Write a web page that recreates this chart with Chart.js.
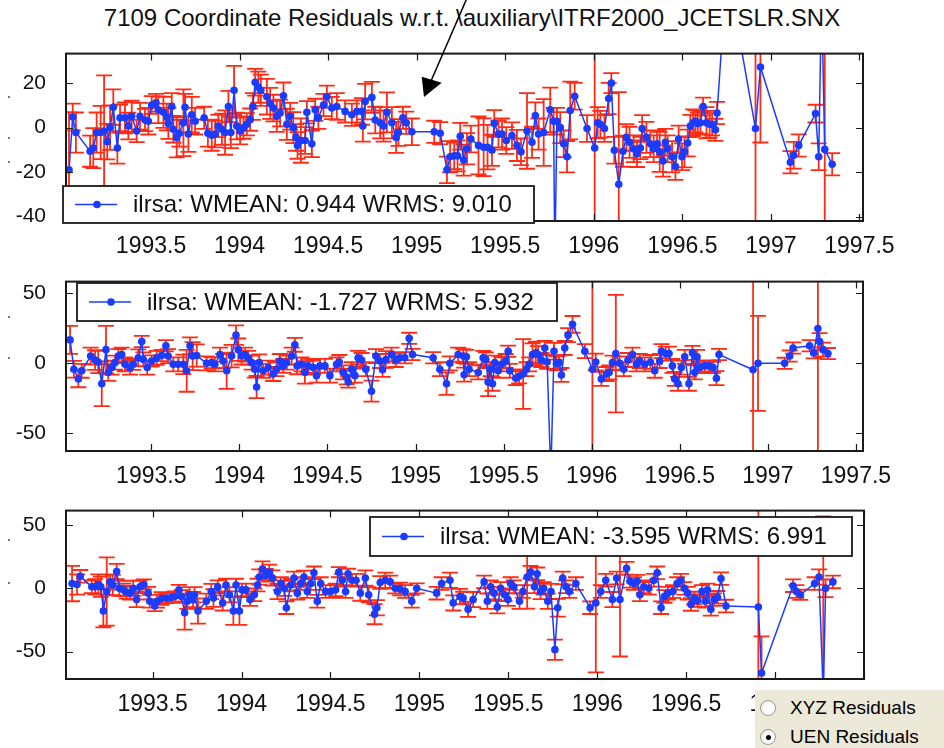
<!DOCTYPE html>
<html>
<head>
<meta charset="utf-8">
<script src="https://cdn.jsdelivr.net/npm/chart.js@4.4.1/dist/chart.umd.min.js"></script>
<style>
  body { margin: 0; width: 944px; height: 748px; background: #fff; position: relative; overflow: hidden;
         font-family: "Liberation Sans", Arial, sans-serif; }
  #title { position: absolute; left: 0; top: 4px; width: 944px; text-align: center; font-size: 24px; color: #111; white-space: nowrap; }
  canvas { position: absolute; left: 0; }
  svg { position: absolute; left: 0; top: 0; }
  .dot { position: absolute; left: 8px; width: 2px; height: 2px; background: #777; }
  #radio { position: absolute; left: 755px; top: 690px; width: 189px; height: 58px; background: #ece9d8; z-index: 5; }
  .opt { position: absolute; left: 5px; height: 20px; display: flex; align-items: center; font-size: 19px; color: #000; }
  .rb { width: 14px; height: 14px; border-radius: 50%; border: 1px solid #9a9a90; background: radial-gradient(circle at 60% 60%, #fff 40%, #dcdad0); margin-right: 14px; position: relative; }
  .rb.on::after { content: ''; position: absolute; left: 4.5px; top: 4.5px; width: 5px; height: 5px; border-radius: 50%; background: #000; }
</style>
</head>
<body>
<div id="title">7109 Coordinate Residuals w.r.t. \auxiliary\ITRF2000_JCETSLR.SNX</div>

<canvas id="c1" width="944" height="232"></canvas>
<canvas id="c2" width="944" height="234"></canvas>
<canvas id="c3" width="944" height="233"></canvas>

<svg width="944" height="110">
  <line x1="467" y1="-2" x2="428" y2="88" stroke="#000" stroke-width="1.5"/>
  <polygon points="424,97 421.7,76.7 441.7,82.7" fill="#000"/>
</svg>

<div class="dot" style="top:96px"></div>
<div class="dot" style="top:137px"></div>
<div class="dot" style="top:161px"></div>
<div class="dot" style="top:316px"></div>
<div class="dot" style="top:357px"></div>
<div class="dot" style="top:539px"></div>
<div class="dot" style="top:582px"></div>

<div id="radio">
  <div class="opt" style="top:8px"><span class="rb"></span><span>XYZ Residuals</span></div>
  <div class="opt" style="top:37px"><span class="rb on"></span><span>UEN Residuals</span></div>
</div>

<script>
// Ejes
const xTicks = [1993.5, 1994, 1994.5, 1995, 1995.5, 1996, 1996.5, 1997, 1997.5];
const yTicks1 = [-40, -20, 0, 20];
const yTicks2 = [-50, 0, 50];
const yTicks3 = [-50, 0, 50];
const legendLabels = [
    'ilrsa: WMEAN: 0.944 WRMS: 9.010',
    'ilrsa: WMEAN: -1.727 WRMS: 5.932',
    'ilrsa: WMEAN: -3.595 WRMS: 6.991'
];

// Panel 1 (U)
const t1 = [
 1993.037, 1993.058, 1993.076, 1993.156, 1993.174, 1993.193, 1993.216, 1993.235, 1993.253, 1993.269,
 1993.287, 1993.31, 1993.325, 1993.353, 1993.372, 1993.391, 1993.419, 1993.438, 1993.466, 1993.485,
 1993.504, 1993.528, 1993.541, 1993.57, 1993.589, 1993.598, 1993.617, 1993.626, 1993.645, 1993.66,
 1993.683, 1993.692, 1993.711, 1993.73, 1993.749, 1993.8, 1993.821, 1993.843, 1993.862, 1993.88,
 1993.9, 1993.918, 1993.937, 1993.951, 1993.969, 1993.984, 1994.003, 1994.022, 1994.041, 1994.06,
 1994.075, 1994.088, 1994.106, 1994.12, 1994.154, 1994.173, 1994.191, 1994.21, 1994.229, 1994.248,
 1994.267, 1994.286, 1994.304, 1994.319, 1994.327, 1994.346, 1994.37, 1994.38, 1994.408, 1994.427,
 1994.445, 1994.474, 1994.493, 1994.521, 1994.549, 1994.596, 1994.634, 1994.662, 1994.691, 1994.696,
 1994.709, 1994.747, 1994.766, 1994.794, 1994.813, 1994.832, 1994.86, 1994.884, 1994.897, 1994.922,
 1994.941, 1994.973, 1995.099, 1995.133, 1995.171, 1995.189, 1995.212, 1995.231, 1995.246, 1995.265,
 1995.284, 1995.306, 1995.349, 1995.378, 1995.4, 1995.425, 1995.438, 1995.462, 1995.482, 1995.506,
 1995.538, 1995.566, 1995.589, 1995.623, 1995.651, 1995.67, 1995.688, 1995.717, 1995.754, 1995.773,
 1995.78, 1995.792, 1995.811, 1995.83, 1995.849, 1995.867, 1995.892, 1995.962, 1996.005, 1996.022,
 1996.037, 1996.06, 1996.084, 1996.099, 1996.116, 1996.141, 1996.165, 1996.184, 1996.202, 1996.225,
 1996.244, 1996.263, 1996.273, 1996.297, 1996.319, 1996.338, 1996.357, 1996.372, 1996.391, 1996.404,
 1996.417, 1996.442, 1996.461, 1996.479, 1996.498, 1996.512, 1996.53, 1996.545, 1996.561, 1996.574,
 1996.587, 1996.602, 1996.617, 1996.636, 1996.654, 1996.668, 1996.687, 1996.696, 1996.752, 1996.913,
 1996.941, 1997.11, 1997.129, 1997.157, 1997.252, 1997.27, 1997.286, 1997.304, 1997.346
];
const v1 = [
 -19, 4.8, -2.2, -10.6, -9.2, -2.2, -2.2, -1.5, -6.3, 0,
 9.2, -9.2, 4.4, 4.4, 0.7, 5.1, -1.5, 5.1, 3.4, 2.9,
 10.2, 11.2, 8, 6.9, 4.8, 1.9, 9.5, -0.7, -4.4, -2.5,
 2.2, 9.2, -2.9, 5.8, 2.9, 4.4, -2.5, -3.4, -2.9, 0.7,
 -0.7, -2.2, 9.5, -2.2, 16.8, 0.7, -1.5, 0, 1.5, 3.6,
 9.5, 20.4, 18.2, 16.8, 13.9, 10.9, 8.8, 5.1, 6.6, 14.3,
 1.5, 5.1, 0, -4.4, -8, -5.8, -5.8, 6.9, -7.3, 8,
 4.4, 10.2, 13.9, 8.8, 9.5, 7.3, 5.8, 7.3, 7.3, 0.7,
 11.7, 13.6, 3.4, 2.2, 0.7, 6.9, 2.2, -4.4, -2.2, 4.4,
 2.2, -1.9, -1.9, -2.5, -19, -13.1, -12.7, -12.7, -3.9, -14.6,
 -9.5, -5.1, -8, -8.8, -8.8, -10.2, 1.9, -2.9, -2.9, -5.8,
 -3.6, -8, -10.9, -1.5, -6.6, 5.4, -2.9, -2.2, 8, 2.9,
 -60, 2.9, 0, -7.3, -13.1, 7.7, 14.1, -0.4, -9.2, 2.2,
 1.5, -0.4, 13.1, 20, -10.2, -25.5, -10.6, -4.4, -6.6, -9.5,
 -11.7, -9.2, -0.4, -4.4, -7.3, -9.5, -7.3, -10.9, -15, -6.6,
 -9.5, -13.1, -17.5, -5.1, -13.1, -10.9, -6.9, 0.7, 2.2, 2.9,
 1.9, 2.2, 9.5, 2.2, 1.5, 1.5, -1, 6.6, 72, -0.4,
 27.3, -15.6, -12.4, -8, 6.3, -13.1, 60, -9.8, -16.5
];
const e1 = [
 26, 6, 9, 7, 9, 9, 12, 25, 8, 10,
 8, 7, 6, 7, 6, 7, 5, 6, 5, 6,
 4, 4, 6, 7, 6, 7, 6, 6, 9, 6,
 15, 6, 8, 8, 6, 5, 6, 7, 6, 5,
 7, 10, 7, 7, 11, 6, 6, 5, 5, 5,
 6, 6, 7, 7, 8, 7, 6, 7, 6, 6,
 7, 6, 7, 6, 6, 10, 6, 5, 6, 5,
 5, 5, 5, 5, 6, 5, 5, 5, 6, 7,
 8, 7, 6, 7, 7, 9, 7, 7, 6, 5,
 5, 6, 5, 5, 6, 7, 6, 7, 6, 7,
 7, 6, 13, 13, 10, 7, 6, 6, 7, 6,
 6, 7, 6, 17, 7, 6, 7, 15, 10, 6,
 7, 6, 7, 6, 7, 13, 6, 6, 90, 7,
 6, 6, 7, 4.5, 6, 41.5, 7, 6, 7, 6,
 6, 5, 6, 7, 6, 6, 6, 9, 7, 6,
 6, 7, 6, 6, 6, 7, 6, 5, 6, 5,
 5, 5, 4, 7, 6, 5, 5, 5, 5, 90,
 34, 5, 6, 5, 4, 6, 5, 60, 5
];

// Panel 2 (E)
const t2 = [
 1993.039, 1993.061, 1993.086, 1993.105, 1993.156, 1993.181, 1993.199, 1993.219, 1993.243, 1993.256,
 1993.275, 1993.294, 1993.313, 1993.332, 1993.351, 1993.379, 1993.398, 1993.426, 1993.446, 1993.455,
 1993.477, 1993.502, 1993.531, 1993.559, 1993.583, 1993.596, 1993.625, 1993.653, 1993.682, 1993.701,
 1993.72, 1993.735, 1993.758, 1993.814, 1993.843, 1993.861, 1993.89, 1993.908, 1993.928, 1993.956,
 1993.981, 1993.994, 1994.013, 1994.032, 1994.05, 1994.07, 1994.088, 1994.098, 1994.113, 1994.135,
 1994.164, 1994.192, 1994.211, 1994.23, 1994.249, 1994.268, 1994.297, 1994.315, 1994.328, 1994.353,
 1994.372, 1994.391, 1994.419, 1994.438, 1994.457, 1994.486, 1994.514, 1994.552, 1994.567, 1994.589,
 1994.609, 1994.618, 1994.637, 1994.656, 1994.674, 1994.694, 1994.718, 1994.75, 1994.775, 1994.798,
 1994.813, 1994.832, 1994.864, 1994.888, 1994.911, 1994.939, 1994.964, 1994.983, 1995.1, 1995.138,
 1995.176, 1995.195, 1995.242, 1995.271, 1995.276, 1995.289, 1995.304, 1995.356, 1995.384, 1995.399,
 1995.412, 1995.426, 1995.437, 1995.45, 1995.469, 1995.488, 1995.512, 1995.526, 1995.535, 1995.569,
 1995.588, 1995.611, 1995.63, 1995.645, 1995.664, 1995.683, 1995.696, 1995.715, 1995.734, 1995.747,
 1995.768, 1995.786, 1995.8, 1995.815, 1995.828, 1995.847, 1995.866, 1995.891, 1995.961, 1996.004,
 1996.023, 1996.055, 1996.084, 1996.099, 1996.118, 1996.137, 1996.159, 1996.182, 1996.206, 1996.231,
 1996.254, 1996.273, 1996.301, 1996.333, 1996.358, 1996.386, 1996.396, 1996.42, 1996.439, 1996.458,
 1996.471, 1996.49, 1996.509, 1996.528, 1996.552, 1996.572, 1996.585, 1996.598, 1996.613, 1996.642,
 1996.666, 1996.689, 1996.708, 1996.723, 1996.916, 1996.944, 1997.095, 1997.124, 1997.143, 1997.237,
 1997.26, 1997.284, 1997.294, 1997.313, 1997.341
];
const v2 = [
 16.5, -4.5, -11.4, -5.6, 4.9, 2.1, 0.7, -14.9, 9.5, -6.8,
 -3.3, 0.2, 4.9, 6, -1, -3.3, -1, 3.7, 15.3, 2.5,
 -3.3, 1.4, 3.7, 5.3, 12.3, 4.9, -1, -1, -1, -5.6,
 12.3, 4.9, 5.3, -0.3, 0.2, -1, 6, 1.4, -5.6, 4.9,
 19.9, 9.5, 4.9, 6, 3.7, 0.2, -4.5, -17.2, 0.2, -5.6,
 -3.3, -7.9, -4.5, 1.4, -2.1, 0.2, 4.9, 13, -2.1, -1,
 -6.8, -2.1, -3.3, -9.1, -2.1, -2.1, -9.1, -1, 0.7, -6.8,
 -10.3, -13.7, -4.5, -9.1, 3.7, 2.1, -4.5, -20.2, 4.9, 1.4,
 -4.9, 2.5, 6, 2.1, 3.7, 3.7, 17.6, 6, 3.7, -4.5,
 -14.9, -0.3, 6, 4.9, -8.4, 4.4, -4.5, -6.8, 3.7, 2.5,
 -13.7, -4.5, -14.9, 0.2, -5.6, -1, 1.4, 8.4, -5.6, -10.9,
 -9.6, -7.9, -4.5, -1, 6, 7.2, 6, 2.1, 10.7, 0.7,
 -80, 8.4, -0.3, 0.2, -8.6, 10.7, 19.9, 27.6, 8.4, -4.5,
 0.7, -11.4, -7.9, -6.8, 0.2, 6.7, -0.3, -4.5, 2.1, 6,
 -1, 1.4, -1, 0.7, -5.6, 1.4, 8.4, 6.7, 6.7, -2.1,
 -11.4, -14.9, -3.3, 4.4, -14.9, 7.2, -6.8, 4.4, -3.3, -2.1,
 -2.1, -3.3, -10.9, 6, -4.9, -0.3, -0.3, 4.9, 10.7, 12.3,
 7.2, 24.6, 15.3, 9.5, 6.7
];
const e2 = [
 10, 6, 6, 5, 6, 7, 8, 16, 17, 6,
 5, 5, 5, 5, 5, 5, 4, 6, 4, 5,
 5, 4, 5, 4, 4, 5, 5, 5, 7, 15,
 6, 10, 8, 5, 4, 5, 5, 5, 13, 8,
 7, 8, 6, 5, 5, 5, 6, 8, 6, 5,
 5, 5, 5, 5, 5, 5, 6, 5, 6, 5,
 8, 5, 5, 5, 5, 5, 5, 5, 5, 5,
 5, 4, 5, 5, 5, 5, 5, 7.5, 5, 5,
 5, 6, 5, 5, 4, 4, 4, 4, 4, 5,
 8, 5, 5, 5, 5, 5, 5, 5, 5, 5,
 10, 5, 5, 5, 5, 5, 5, 4, 5, 5,
 5, 25, 5, 5, 8, 8, 6, 5, 5, 5,
 5, 6, 5, 5, 5, 5, 5, 6, 5, 90,
 6, 5, 5, 5, 5, 42, 5, 5, 5, 5,
 5, 5, 5, 5, 5, 5, 5, 5, 5, 5,
 5, 5, 5, 5, 5, 5, 5, 5, 4, 4,
 4, 4, 5, 4, 90, 34, 4, 4, 4, 4,
 4, 90, 6, 5, 4
];

// Panel 3 (N)
const t3 = [
 1993.047, 1993.075, 1993.093, 1993.158, 1993.177, 1993.195, 1993.209, 1993.223, 1993.242, 1993.261,
 1993.276, 1993.298, 1993.313, 1993.335, 1993.354, 1993.373, 1993.391, 1993.41, 1993.429, 1993.451,
 1993.475, 1993.484, 1993.512, 1993.525, 1993.55, 1993.578, 1993.606, 1993.624, 1993.648, 1993.662,
 1993.68, 1993.695, 1993.708, 1993.727, 1993.736, 1993.755, 1993.802, 1993.83, 1993.842, 1993.866,
 1993.894, 1993.913, 1993.932, 1993.954, 1993.969, 1993.988, 1994.003, 1994.025, 1994.048, 1994.072,
 1994.09, 1994.1, 1994.118, 1994.137, 1994.156, 1994.174, 1994.202, 1994.221, 1994.24, 1994.252,
 1994.277, 1994.295, 1994.314, 1994.333, 1994.351, 1994.37, 1994.389, 1994.407, 1994.426, 1994.445,
 1994.473, 1994.501, 1994.529, 1994.547, 1994.566, 1994.585, 1994.599, 1994.621, 1994.644, 1994.668,
 1994.696, 1994.715, 1994.748, 1994.761, 1994.78, 1994.808, 1994.836, 1994.864, 1994.892, 1994.92,
 1994.957, 1994.985, 1995.097, 1995.125, 1995.172, 1995.19, 1995.228, 1995.246, 1995.274, 1995.302,
 1995.364, 1995.382, 1995.401, 1995.42, 1995.438, 1995.457, 1995.479, 1995.498, 1995.513, 1995.531,
 1995.563, 1995.582, 1995.606, 1995.625, 1995.647, 1995.662, 1995.681, 1995.699, 1995.722, 1995.74,
 1995.762, 1995.778, 1995.806, 1995.824, 1995.843, 1995.88, 1995.96, 1995.992, 1996.02, 1996.048,
 1996.085, 1996.109, 1996.128, 1996.165, 1996.184, 1996.207, 1996.225, 1996.24, 1996.262, 1996.29,
 1996.318, 1996.337, 1996.359, 1996.378, 1996.397, 1996.426, 1996.449, 1996.471, 1996.49, 1996.509,
 1996.527, 1996.545, 1996.564, 1996.589, 1996.607, 1996.62, 1996.639, 1996.657, 1996.676, 1996.696,
 1996.724, 1996.906, 1996.924, 1997.101, 1997.12, 1997.142, 1997.222, 1997.247, 1997.271, 1997.284,
 1997.325
];
const v3 = [
 3.8, 3.1, 9.5, 1.3, 1.3, 3.1, 1.3, -17.9, -2.5, 5.1,
 2.6, 13.3, 0, -1.2, -3.1, -3.8, 0, -8.9, 1.3, 3.1,
 -3.8, -10.2, -14, -10.2, -8.1, -7.7, -7.1, -6.4, -1.2, -6.4,
 -19.2, -10.2, -5.1, -8.9, -5.1, -17.9, -10.2, -2.5, -7.7, 1.3,
 -11.5, 2.6, -5.1, -17.9, 2.6, -17.9, -1.2, -1.2, -8.9, -5.1,
 2.6, 9, 15.3, 10.3, 12.8, 8.2, -2.5, 3.8, 0, -15.3,
 2.6, 8.2, -3.8, 3.8, 9, -2.5, 3.8, 12.3, -10.2, 3.8,
 -2.5, -2.5, -1.2, 12.8, 6.4, -2.5, 11.5, 6.4, 6.4, -3.8,
 8.2, -5.1, -20.4, -15.3, 4.6, 6.4, 5.1, 0, -0.5, -2.5,
 -10.2, 0, -3.8, 3.8, 6.4, -11.5, -6.4, -7.7, -16.6, -8.9,
 5.1, -10.2, 1.3, -3.8, -14.8, 0, -5.1, -8.9, 3.8, 1.3,
 -10.2, -2.5, 9, 12.8, 1.3, 11.5, -2.5, 0, -10.2, -2.5,
 -48.5, -15.3, 8.2, 1.3, -2.5, 3.8, -15.3, -11.5, -2.5, 6.4,
 -8.9, 8.2, -8.9, 15.9, 5.6, 3.8, 5.6, -5.1, 1.3, 0,
 6.4, 12.3, -15.3, -6.4, -3.8, -2.5, 3.8, 6.4, 0, -3.8,
 -12.7, -7.7, -9.7, -2.5, -10.2, -1.2, -16.6, -8.9, -7.1, 7.7,
 -14, -14.8, -67, 2.1, -2.5, -5.1, 3.8, 9, -85, 0,
 5.1
];
const e3 = [
 14, 8, 5, 5, 6, 8, 8, 13, 27, 6,
 8, 6, 6, 5, 5, 5, 6, 6, 5, 4,
 5, 5, 4, 5, 5, 4, 4, 4, 4, 5,
 13.5, 6, 6, 6, 6, 10, 6, 6, 7, 5,
 6, 5, 6, 11, 5, 11, 5, 5, 5, 5,
 5, 6, 6, 5, 6, 6, 6, 5, 6, 5,
 5, 5, 5, 5, 5, 5, 5, 5, 5, 5,
 5, 5, 5, 4, 5, 5, 4, 5, 5, 6,
 6, 6, 8, 6, 5, 6, 5, 4, 5, 5,
 5, 4, 5, 5, 6, 6, 6, 5, 6, 6,
 5, 6, 5, 5, 5, 5, 5, 5, 5, 5,
 6, 5, 25, 5, 5, 5, 6, 5, 6, 6,
 8, 7, 5, 5, 5, 5, 5, 55, 5, 5,
 6, 5, 45, 5, 5, 5, 5, 5, 5, 5,
 5, 5, 5, 5, 5, 5, 5, 5, 5, 5,
 5, 5, 5, 5, 5, 5, 5, 5, 5, 5,
 5, 140, 29, 5, 5, 4, 5, 6, 142, 7,
 5
];

// Colores
const BLUE = '#1b3cff';
const RED = '#ff2b14';
const FRAME = '#1a1a1a';

// Barras de error (rojo) detrás de la serie
const errorBars = {
    id: 'errorBars',
    beforeDatasetsDraw(chart, args, opts) {
        const { ctx, chartArea: a, scales: { x, y } } = chart;
        const pts = chart.data.datasets[0].data;
        const cap = 8;
        ctx.save();
        ctx.beginPath();
        ctx.rect(a.left, a.top, a.right - a.left, a.bottom - a.top);
        ctx.clip();
        ctx.strokeStyle = RED;
        ctx.lineWidth = 1.8;
        ctx.beginPath();
        pts.forEach((p, i) => {
            const err = opts.err[i] || 0;
            const px = x.getPixelForValue(p.x);
            const yt = y.getPixelForValue(p.y + err);
            const yb = y.getPixelForValue(p.y - err);
            ctx.moveTo(px, yt); ctx.lineTo(px, yb);
            ctx.moveTo(px - cap, yt); ctx.lineTo(px + cap, yt);
            ctx.moveTo(px - cap, yb); ctx.lineTo(px + cap, yb);
        });
        ctx.stroke();
        ctx.restore();
    }
};

// Marco con ticks hacia adentro (estilo MATLAB)
const frame = {
    id: 'frame',
    afterDraw(chart) {
        const { ctx, chartArea: a, scales: { x, y } } = chart;
        const len = 7;
        ctx.save();
        ctx.strokeStyle = FRAME;
        ctx.lineWidth = 2;
        ctx.strokeRect(a.left, a.top, a.right - a.left, a.bottom - a.top);
        ctx.beginPath();
        x.ticks.forEach(t => {
            const px = Math.round(x.getPixelForValue(t.value)) + 0.5;
            ctx.moveTo(px, a.bottom); ctx.lineTo(px, a.bottom - len);
            ctx.moveTo(px, a.top); ctx.lineTo(px, a.top + len);
        });
        y.ticks.forEach(t => {
            const py = Math.round(y.getPixelForValue(t.value)) + 0.5;
            ctx.moveTo(a.left, py); ctx.lineTo(a.left + len, py);
            ctx.moveTo(a.right, py); ctx.lineTo(a.right - len, py);
        });
        ctx.lineWidth = 1.2;
        ctx.stroke();
        ctx.restore();
    }
};

// Leyenda dibujada dentro del gráfico
const legendBox = {
    id: 'legendBox',
    afterDraw(chart, args, opts) {
        const { ctx } = chart;
        const [bx, by, bw, bh] = opts.box;
        const cy = by + bh / 2;
        ctx.save();
        ctx.fillStyle = '#fff';
        ctx.fillRect(bx, by, bw, bh);
        ctx.strokeStyle = FRAME;
        ctx.lineWidth = 1.8;
        ctx.strokeRect(bx, by, bw, bh);
        ctx.strokeStyle = BLUE;
        ctx.lineWidth = 1.5;
        ctx.beginPath();
        ctx.moveTo(bx + 12, cy); ctx.lineTo(bx + 54, cy);
        ctx.stroke();
        ctx.fillStyle = BLUE;
        ctx.beginPath();
        ctx.arc(bx + 34, cy, 3.8, 0, Math.PI * 2);
        ctx.fill();
        ctx.fillStyle = '#111';
        ctx.font = '24px "Liberation Sans", Arial, sans-serif';
        ctx.textBaseline = 'middle';
        ctx.fillText(chart.data.datasets[0].label, bx + 70, cy + 1);
        ctx.restore();
    }
};

function makePanel(p) {
    const [L, T, R, B] = p.area;
    const top = T - 20;
    const cv = document.getElementById(p.id);
    cv.style.top = top + 'px';
    // recuadro de leyenda relativo al canvas
    const box = [p.leg[0], p.leg[1] - top, p.leg[2], p.leg[3]];
    return new Chart(cv.getContext('2d'), {
        type: 'line',
        data: {
            datasets: [{
                label: p.label,
                data: p.t.map((x, i) => ({ x: x, y: p.v[i] })),
                borderColor: BLUE,
                borderWidth: 1.5,
                backgroundColor: BLUE,
                pointRadius: 3.8,
                pointBorderWidth: 0,
                pointBackgroundColor: BLUE,
                tension: 0,
                fill: false
            }]
        },
        options: {
            responsive: false,
            animation: false,
            devicePixelRatio: 1,
            layout: { padding: { left: 0, top: 20, right: 944 - R, bottom: 0 } },
            plugins: {
                legend: { display: false },
                tooltip: { enabled: false },
                errorBars: { err: p.e },
                legendBox: { box: box }
            },
            scales: {
                x: {
                    type: 'linear',
                    min: p.xmin,
                    max: p.xmax,
                    grid: { display: false },
                    border: { display: false },
                    afterBuildTicks: s => { s.ticks = xTicks.map(v => ({ value: v })); },
                    afterFit: s => { s.height = (cv.height - 20) - (B - T); s.paddingLeft = 0; s.paddingRight = 0; },
                    ticks: {
                        color: '#111',
                        font: { size: 23 },
                        padding: 4,
                        autoSkip: false,
                        maxRotation: 0,
                        callback: v => String(v)
                    }
                },
                y: {
                    min: p.ymin,
                    max: p.ymax,
                    grid: { display: false },
                    border: { display: false },
                    afterBuildTicks: s => { s.ticks = p.yt.map(v => ({ value: v })); },
                    afterFit: s => { s.width = L; },
                    ticks: {
                        color: '#111',
                        font: { size: 21 },
                        padding: 12,
                        callback: v => String(v)
                    }
                }
            }
        },
        plugins: [errorBars, frame, legendBox]
    });
}

Chart.defaults.font.family = '"Liberation Sans", Arial, sans-serif';

makePanel({ id: 'c1', t: t1, v: v1, e: e1, yt: yTicks1, label: legendLabels[0],
    xmin: 1993.02, xmax: 1997.52, ymin: -42, ymax: 33.3,
    area: [66, 49, 863, 221], leg: [63, 186, 471, 37] });
makePanel({ id: 'c2', t: t2, v: v2, e: e2, yt: yTicks2, label: legendLabels[1],
    xmin: 1993.016, xmax: 1997.54, ymin: -63, ymax: 58.2,
    area: [66, 277, 863, 451], leg: [77, 283, 480, 38] });
makePanel({ id: 'c3', t: t3, v: v3, e: e3, yt: yTicks3, label: legendLabels[2],
    xmin: 1993.013, xmax: 1997.5, ymin: -71.7, ymax: 61.5,
    area: [66, 506, 864, 679], leg: [370, 517, 482, 39] });
</script>
</body>
</html>
